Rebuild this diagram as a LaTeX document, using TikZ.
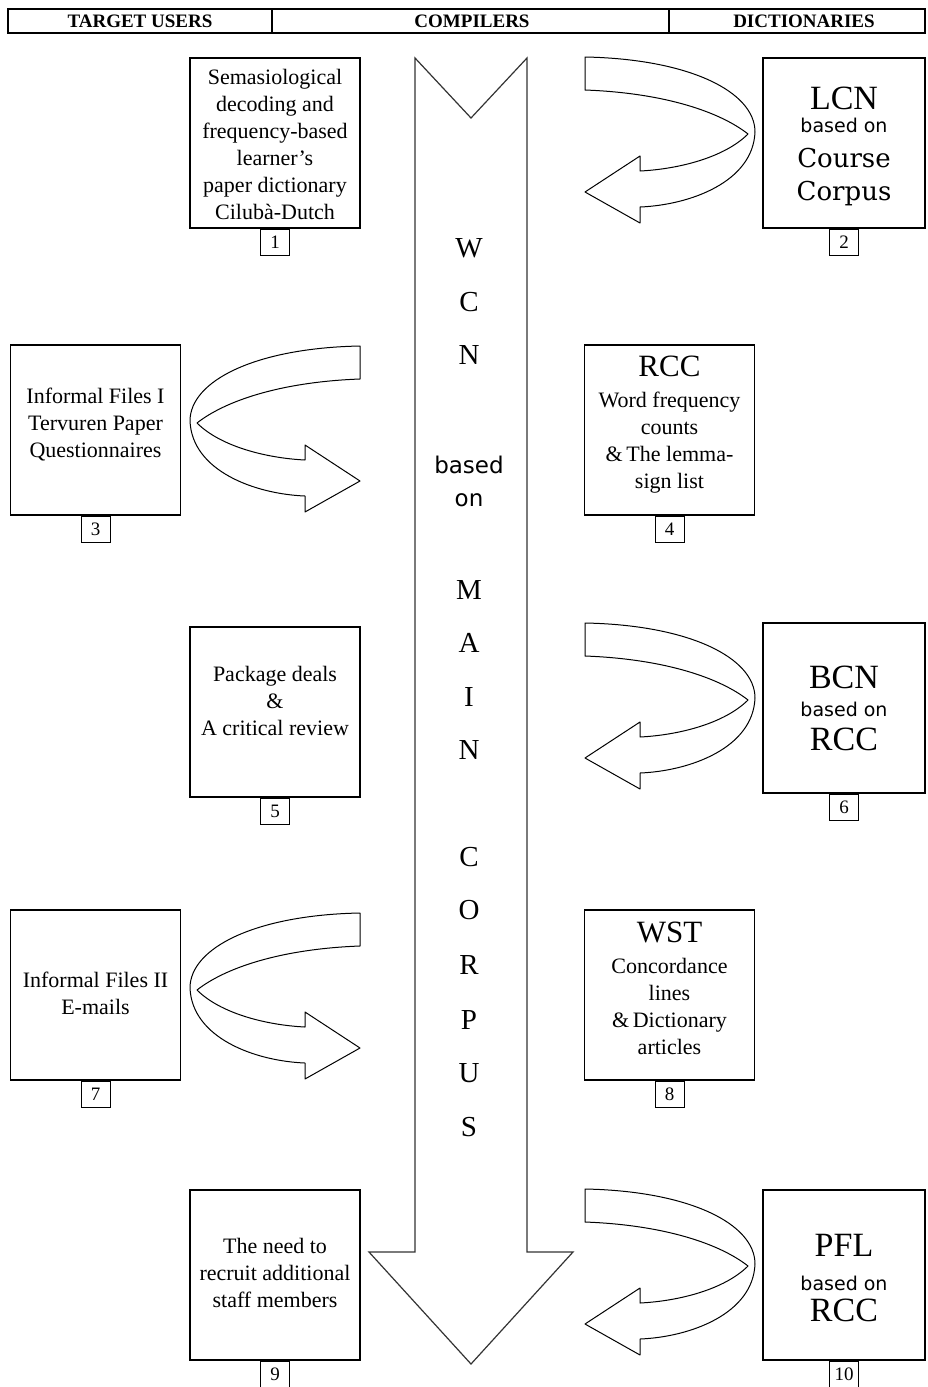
\documentclass[tikz,border=0pt]{standalone}
\usepackage{fontspec}
\setmainfont{Liberation Serif}
\newfontfamily\sansf{DejaVu Sans}
\newfontfamily\dserif{DejaVu Serif}
\begin{document}
\begin{tikzpicture}[x=1pt,y=-1pt,
  tbox/.style={draw, line width=1.2pt, minimum width=170pt, minimum height=170pt, inner sep=0pt},
  dbox/.style={tbox, minimum width=162pt},
  numbox/.style={draw, line width=1pt, minimum width=29pt, minimum height=26pt, inner sep=0pt, anchor=north, font=\fontsize{19}{19}\selectfont},
  body/.style={align=center, inner sep=0pt, font=\fontsize{22}{27}\selectfont},
  hdr/.style={inner sep=0pt, font=\fontsize{19}{20}\selectfont\bfseries},
  abbr/.style={inner sep=0pt, anchor=base, font=\fontsize{34}{34}\selectfont},
  bon/.style={inner sep=0pt, anchor=base, font=\sansf\fontsize{19}{19}\selectfont},
  ccword/.style={inner sep=0pt, anchor=base, font=\dserif\fontsize{26}{26}\selectfont},
  ltr/.style={inner sep=0pt, font=\fontsize{29}{29}\selectfont},
  sltr/.style={inner sep=0pt, font=\sansf\fontsize{23}{23}\selectfont},
  ribbonline/.style={draw=black, line width=1pt, fill=white, line join=round},
  bigline/.style={draw=black!80, line width=1.2pt, fill=white, line join=miter},
  ribbon/.pic={
    \path[ribbonline] (0,0) .. controls (105,2) and (170,35) .. (170,75)
      .. controls (168,125) and (105,148) .. (55,150)
      -- (55,166) -- (0,135) -- (55,99) -- (55,114)
      .. controls (95,112) and (140,100) .. (163,77)
      .. controls (135,55) and (80,36) .. (0,33) -- cycle;
  },
]
\useasboundingbox (0,0) rectangle (927,1387);
\fill[white] (0,0) rectangle (927,1387);

% header
\draw[line width=1.4pt] (8,9) rectangle (925,33);
\draw[line width=1.4pt] (272,9) -- (272,33);
\draw[line width=1.4pt] (669,9) -- (669,33);
\node[hdr] (h1) at (140,21) {TARGET USERS};
\node[hdr] (h2) at (472,21) {COMPILERS};
\node[hdr] (h3) at (804,21) {DICTIONARIES};

% big arrow
\path[bigline] (415,58) -- (471,118) -- (527,58) -- (527,1252) -- (573,1252)
  -- (471,1364) -- (369,1252) -- (415,1252) -- cycle;
\foreach \ch/\yy [count=\i] in {W/248, C/302, N/355, M/590, A/643, I/697, N/750,
  C/857, O/910, R/965, P/1020, U/1073, S/1127}
  \node[ltr] (L\i) at (469,\yy) {\ch};
\node[sltr] (based) at (469,465) {based};
\node[sltr] (on) at (469,500) {on};

% curved arrows
\pic at (585,57) {ribbon};
\pic[xscale=-1] at (360,346) {ribbon};
\pic at (585,623) {ribbon};
\pic[xscale=-1] at (360,913) {ribbon};
\pic at (585,1189) {ribbon};

% box 1
\node[tbox] (b1) at (275,143) {};
\node[body] (t1) at (275,144) {Semasiological\\decoding and\\frequency-based\\learner's\\paper dictionary\\Cilubà-Dutch};
\node[numbox] (n1) at (b1.south) {1};

% box 2
\node[dbox] (b2) at (844,143) {};
\node[abbr] (t2a) at (844,109) {LCN};
\node[bon] (t2b) at (844,132) {based on};
\node[ccword] (t2c) at (844,167) {Course};
\node[ccword] (t2d) at (844,200) {Corpus};
\node[numbox] (n2) at (b2.south) {2};

% box 3
\node[tbox] (b3) at (95.5,430) {};
\node[body] (t3) at (95.5,425) {Informal Files I\\Tervuren Paper\\Questionnaires};
\node[numbox] (n3) at (b3.south) {3};

% box 4
\node[tbox] (b4) at (669.5,430) {};
\node[body] (t4) at (669.5,425) {{\fontsize{31}{31}\selectfont RCC}\\[4pt]Word frequency\\counts\\\&\,The lemma-\\sign list};
\node[numbox] (n4) at (b4.south) {4};

% box 5
\node[tbox] (b5) at (275,712) {};
\node[body] (t5) at (275,701) {Package deals\\\&\\A critical review};
\node[numbox] (n5) at (b5.south) {5};

% box 6
\node[dbox] (b6) at (844,708) {};
\node[abbr] (t6a) at (844,688) {BCN};
\node[bon] (t6b) at (844,716) {based on};
\node[abbr] (t6c) at (844,750) {RCC};
\node[numbox] (n6) at (b6.south) {6};

% box 7
\node[tbox] (b7) at (95.5,995) {};
\node[body] (t7) at (95.5,993) {Informal Files II\\E-mails};
\node[numbox] (n7) at (b7.south) {7};

% box 8
\node[tbox] (b8) at (669.5,995) {};
\node[body] (t8) at (669.5,988) {{\fontsize{31}{31}\selectfont WST}\\[4pt]Concordance\\lines\\\&\,Dictionary\\articles};
\node[numbox] (n8) at (b8.south) {8};

% box 9
\node[tbox] (b9) at (275,1275) {};
\node[body] (t9) at (275,1273) {The need to\\recruit additional\\staff members};
\node[numbox] (n9) at (b9.south) {9};

% box 10
\node[dbox] (b10) at (844,1275) {};
\node[abbr] (t10a) at (844,1256) {PFL};
\node[bon] (t10b) at (844,1290) {based on};
\node[abbr] (t10c) at (844,1321) {RCC};
\node[numbox] (n10) at (b10.south) {10};
\end{tikzpicture}
\end{document}
